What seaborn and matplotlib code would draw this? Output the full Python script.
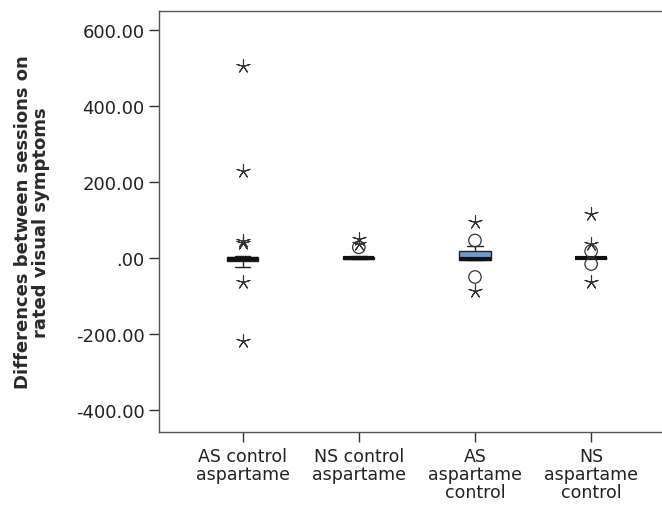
import matplotlib
matplotlib.use("Agg")
import matplotlib.pyplot as plt
import seaborn as sns
import pandas as pd

# Categories (conditions)
categories = ["AS control\naspartame", "NS control\naspartame",
              "AS\naspartame\ncontrol", "NS\naspartame\ncontrol"]

# Box summaries
q1 = [-8, -4, -5, 0]
median = [-2, 0, -3, 0]
q3 = [3, 3, 19, 0]
whisker_low = [-24, -4, -5, 0]
whisker_high = [6, 4, 32, 0]

# Outliers (circles) and extremes (asterisks)
outliers = [[], [28], [46, -50], [18, -16]]
extremes = [[506, 230, 44, 40, -63, -218], [50, 36], [95, -86], [116, 36, -63]]

yticks = [-400, -200, 0, 200, 400, 600]
ytick_labels = ["-400.00", "-200.00", ".00", "200.00", "400.00", "600.00"]

sns.set_theme(style="white")
plt.rcParams['font.family'] = ['DejaVu Sans']

fig = plt.figure(figsize=(6.62, 5.10), dpi=100)
ax = fig.add_axes([0.2402, 0.151, 0.7598, 0.8255])

stats = []
for i in range(len(categories)):
    stats.append({"q1": q1[i], "med": median[i], "q3": q3[i],
                  "whislo": whisker_low[i], "whishi": whisker_high[i],
                  "fliers": []})

ax.bxp(stats, positions=range(len(categories)), widths=0.27,
       patch_artist=True, showfliers=False,
       boxprops=dict(facecolor="#6f9bd4", edgecolor="#222222", linewidth=1.0),
       medianprops=dict(color="#111111", linewidth=3.0),
       whiskerprops=dict(color="#222222", linewidth=1.0),
       capprops=dict(color="#222222", linewidth=1.0))

# flatten outlier lists into tables
out_df = pd.DataFrame([(i, v) for i, vals in enumerate(outliers) for v in vals],
                      columns=["pos", "value"])
ext_df = pd.DataFrame([(i, v) for i, vals in enumerate(extremes) for v in vals],
                      columns=["pos", "value"])

sns.scatterplot(data=out_df, x="pos", y="value", marker="o", s=80,
                facecolor="none", edgecolor="#333333", linewidth=0.9,
                ax=ax, legend=False, zorder=3)
sns.scatterplot(data=ext_df, x="pos", y="value", marker=(5, 2, 0), s=95,
                color="#333333", linewidth=0.8, ax=ax, legend=False, zorder=3)

ax.set_xlim(-0.72, 3.61)
ax.set_ylim(-458, 650)
ax.set_yticks(yticks)
ax.set_yticklabels(ytick_labels, fontsize=13, color="#222222")
ax.set_xticks(range(len(categories)))
ax.set_xticklabels(categories, fontsize=12.5, color="#222222", linespacing=1.0)
ax.set_xlabel("")
ax.set_ylabel("Differences between sessions on\nrated visual symptoms",
              fontsize=13, fontweight="bold", color="#2a2a2a", linespacing=1.0)
ax.yaxis.set_label_coords(-0.217, 0.5)

ax.tick_params(axis="both", which="both", direction="out", length=7,
               width=1, color="#333333", left=True, bottom=True)
for side in ["left", "bottom", "top"]:
    ax.spines[side].set_color("#555555")
    ax.spines[side].set_linewidth(1.0)
ax.spines["right"].set_visible(False)
ax.grid(False)

fig.savefig("out.png", dpi=100)
